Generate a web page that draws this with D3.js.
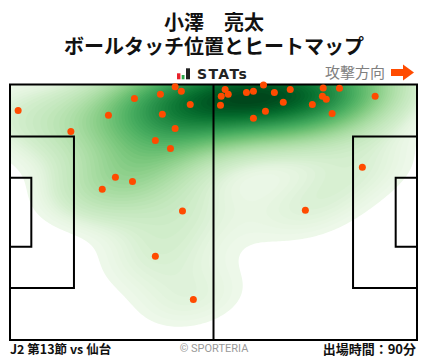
<!DOCTYPE html>
<html>
<head>
<meta charset="utf-8">
<script src="https://cdn.jsdelivr.net/npm/d3@7"></script>
<style>
  body { margin: 0; background: #fff; }
  svg { display: block; font-family: "Noto Sans CJK JP", "Noto Sans", sans-serif; }
</style>
</head>
<body>
<svg width="428" height="359"></svg>
<script>
// ball touch positions, pitch metres (x: own goal -> attack, y: top -> bottom)
const touchX = [2.1, 15.7, 32.1, 25.4, 38.8, 42.6, 44.2, 46.5, 39.3, 42.6, 37.5, 41.4, 27.2, 31.6, 23.8,
                44.5, 37.5, 47.3, 55.5, 54.5, 56.3, 54.3, 61.0, 62.8, 65.4, 68.2, 72.3, 70.5, 65.9, 62.8,
                80.8, 85.0, 80.6, 81.6, 78.0, 83.1, 94.2, 90.9, 76.2];
const touchY = [6.9, 12.5, 3.7, 8.2, 2.6, 0.6, 1.8, 5.3, 7.9, 11.7, 14.9, 17.0, 24.7, 25.8, 27.9,
                33.7, 45.7, 57.2, 1.3, 3.1, 2.6, 5.5, 2.1, 1.8, 0.1, 2.1, 1.3, 4.7, 7.1, 9.0,
                0.9, 1.0, 3.1, 3.9, 5.3, 7.7, 3.1, 22.0, 33.5];

const titleLines = ["小澤\u3000亮太", "ボールタッチ位置とヒートマップ"];
const matchLabel = "J2 第13節 vs 仙台";
const minutesLabel = "出場時間：90分";
const pitchLength = 105, pitchWidth = 68;

const svg = d3.select("svg");
const pLeft = 10, pRight = 417, pTop = 84.5, pBottom = 340;
const pw = pRight - pLeft, ph = pBottom - pTop;

const x = d3.scaleLinear().domain([0, pitchLength]).range([pLeft, pRight]);
const y = d3.scaleLinear().domain([0, pitchWidth]).range([pTop, pBottom]);

const pts = touchX.map((v, i) => ({x: touchX[i], y: touchY[i]}));

// titles
svg.selectAll("text.title")
    .data(titleLines)
    .enter().append("text")
    .attr("class", "title")
    .attr("x", 214)
    .attr("y", (d, i) => 30 + i * 24)
    .attr("text-anchor", "middle")
    .attr("font-size", 20)
    .attr("font-weight", "bold")
    .attr("fill", "#111")
    .text(d => d);

// STATs logo
const logo = svg.append("g");
logo.append("rect").attr("x", 177).attr("y", 73.3).attr("width", 3.4).attr("height", 6).attr("fill", "#e8212b");
logo.append("rect").attr("x", 181.7).attr("y", 75).attr("width", 2.8).attr("height", 4.3).attr("fill", "#2aa84a");
logo.append("rect").attr("x", 186).attr("y", 68.3).attr("width", 4).attr("height", 11).attr("fill", "#222");
logo.append("text")
    .attr("x", 197).attr("y", 79.3)
    .style("font-family", "'DejaVu Sans', sans-serif")
    .attr("font-size", 14)
    .attr("font-weight", "bold")
    .attr("letter-spacing", 1.4)
    .attr("fill", "#222")
    .text("STATs");

// attack direction
svg.append("text")
    .attr("x", 385).attr("y", 77.5)
    .attr("text-anchor", "end")
    .attr("font-size", 15)
    .attr("fill", "#808080")
    .text("攻撃方向");
svg.append("path")
    .attr("d", "M391,69 L403,69 L403,64.5 L414,72.5 L403,80.5 L403,76 L391,76 Z")
    .attr("fill", "#ff4b00");

// heatmap: gaussian kde with full covariance (scott factor), evaluated on a grid
const P = pts.map(d => [x(d.x), y(d.y)]);
const n = P.length;
const mx = d3.mean(P, d => d[0]), my = d3.mean(P, d => d[1]);
let sxx = 0, syy = 0, sxy = 0;
P.forEach(([a, b]) => { sxx += (a - mx) ** 2; syy += (b - my) ** 2; sxy += (a - mx) * (b - my); });
const f2 = Math.pow(n, -1 / 3);
const cxx = sxx / (n - 1) * f2, cyy = syy / (n - 1) * f2, cxy = sxy / (n - 1) * f2;
const det = cxx * cyy - cxy * cxy;
const ixx = cyy / det, iyy = cxx / det, ixy = -cxy / det;

const cell = 2;
const gx0 = d3.min(P, d => d[0]) - 3 * Math.sqrt(cxx), gx1 = d3.max(P, d => d[0]) + 3 * Math.sqrt(cxx);
const gy0 = d3.min(P, d => d[1]) - 3 * Math.sqrt(cyy), gy1 = d3.max(P, d => d[1]) + 3 * Math.sqrt(cyy);
const nx = Math.ceil((gx1 - gx0) / cell) + 1, ny = Math.ceil((gy1 - gy0) / cell) + 1;
const grid = new Float64Array(nx * ny);
for (let j = 0; j < ny; j++) {
    const gy = gy0 + j * cell;
    for (let i = 0; i < nx; i++) {
        const gx = gx0 + i * cell;
        let s = 0;
        for (const [a, b] of P) {
            const dx = gx - a, dy = gy - b;
            s += Math.exp(-0.5 * (dx * dx * ixx + 2 * dx * dy * ixy + dy * dy * iyy));
        }
        grid[j * nx + i] = s;
    }
}

// iso-proportion levels: level i has (0.05 .. 1) of the mass below it
const sorted = Array.from(grid).sort((a, b) => b - a);
const total = d3.sum(sorted);
const cum = [];
let acc = 0;
sorted.forEach(v => { acc += v; cum.push(acc / total); });
const nLevels = 60;
const props = d3.range(nLevels).map(i => 0.05 + 0.95 * i / nLevels);
const levels = props.map(p => sorted[Math.min(d3.bisectLeft(cum, 1 - p), sorted.length - 1)]);

const contours = d3.contours().size([nx, ny]).thresholds(levels)(grid);
contours.forEach((c, i) => { c.rank = (i + 0.5) / nLevels; });

svg.append("clipPath").attr("id", "pitchClip")
    .append("rect").attr("x", pLeft).attr("y", pTop).attr("width", pw).attr("height", ph);

svg.append("g")
    .attr("clip-path", "url(#pitchClip)")
    .append("g")
    .attr("transform", `translate(${gx0 - cell / 2},${gy0 - cell / 2}) scale(${cell})`)
    .selectAll("path")
    .data(contours)
    .enter().append("path")
    .attr("d", d3.geoPath())
    .attr("fill", d => d3.interpolateGreens(0.06 + 0.94 * d.rank));

// pitch lines
const lines = svg.append("g").attr("fill", "none").attr("stroke", "#000").attr("stroke-width", 2);
lines.append("rect").attr("x", pLeft).attr("y", pTop).attr("width", pw).attr("height", ph);
lines.append("line").attr("x1", x(pitchLength / 2)).attr("x2", x(pitchLength / 2)).attr("y1", pTop).attr("y2", pBottom);
const boxes = [[16.5, 40.32], [5.5, 18.32]];
boxes.forEach(([depth, wid]) => {
    const y0 = y((pitchWidth - wid) / 2), y1 = y((pitchWidth + wid) / 2);
    lines.append("path").attr("d", `M${x(0)},${y0} L${x(depth)},${y0} L${x(depth)},${y1} L${x(0)},${y1}`);
    lines.append("path").attr("d", `M${x(pitchLength)},${y0} L${x(pitchLength - depth)},${y0} L${x(pitchLength - depth)},${y1} L${x(pitchLength)},${y1}`);
});

// touches
svg.append("g")
    .selectAll("circle")
    .data(pts)
    .enter().append("circle")
    .attr("cx", d => x(d.x))
    .attr("cy", d => y(d.y))
    .attr("r", 3.5)
    .attr("fill", "#ff4b00");

// footer
svg.append("text")
    .attr("x", 10).attr("y", 354)
    .attr("font-size", 12.5).attr("font-weight", "bold").attr("fill", "#111")
    .text(matchLabel);
svg.append("text")
    .attr("x", 214).attr("y", 352)
    .attr("text-anchor", "middle")
    .style("font-family", "Roboto, sans-serif")
    .attr("font-size", 11).attr("fill", "#999")
    .text("© SPORTERIA");
svg.append("text")
    .attr("x", 416).attr("y", 354)
    .attr("text-anchor", "end")
    .attr("font-size", 13).attr("font-weight", "bold").attr("fill", "#111")
    .text(minutesLabel);
</script>
</body>
</html>
